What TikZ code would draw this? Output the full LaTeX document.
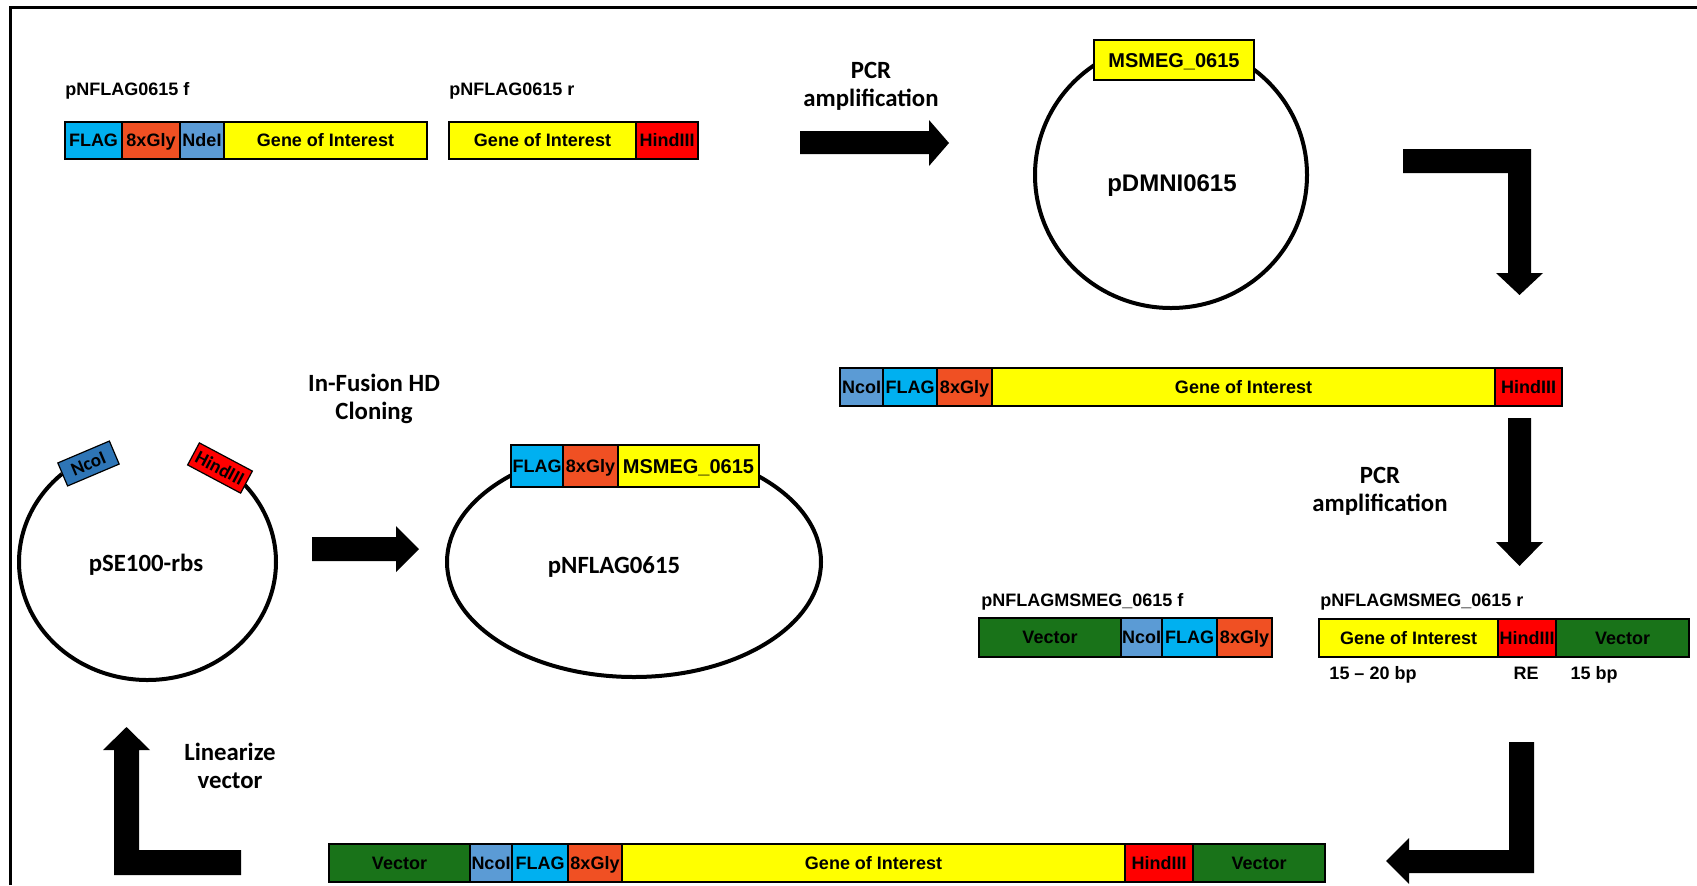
\documentclass[tikz,border=0pt]{standalone}
\usepackage{fontspec}
\newfontfamily\arialf{Liberation Sans}
\newfontfamily\calf{Carlito}

\definecolor{flagc}{RGB}{0,176,240}
\definecolor{glyc}{RGB}{240,80,35}
\definecolor{ndec}{RGB}{91,155,213}
\definecolor{goic}{RGB}{255,255,0}
\definecolor{hindc}{RGB}{255,0,0}
\definecolor{vecc}{RGB}{25,115,25}
\definecolor{ncoc}{RGB}{46,117,182}

\tikzset{
  seg/.style={draw=black, line width=0.8pt},
  barline/.style={draw=black, line width=1.2pt},
  lab/.style={inner sep=0pt, text height=6.4pt, text depth=0pt,
    font=\arialf\bfseries\fontsize{9}{10}\selectfont},
  labbig/.style={inner sep=0pt, text height=7.1pt, text depth=0pt,
    font=\arialf\bfseries\fontsize{10}{11}\selectfont},
  primer/.style={inner sep=0pt, anchor=base west,
    font=\arialf\bfseries\fontsize{9}{10}\selectfont},
  note/.style={inner sep=0pt, anchor=base,
    font=\arialf\bfseries\fontsize{9}{10}\selectfont},
  captext/.style={inner sep=0pt, anchor=base,
    font=\calf\bfseries\fontsize{12.4}{14}\selectfont},
  ring/.style={draw=black, line width=2pt},
  blockarrow/.style={fill=black, draw=none},
  sitebox/.style={draw=black, line width=0.6pt, inner sep=0pt,
    minimum height=12.5pt, font=\calf\bfseries\fontsize{9.5}{10}\selectfont},
}

% one coloured segment of a linear construct
\newcommand\barseg[8]{%
  \draw[seg, fill=#7] (#3,#5) rectangle node[#1] (#2) {#8} (#4,#6);}

\begin{document}
\begin{tikzpicture}[x=0.5pt, y=-0.5pt]
\useasboundingbox (0,0) rectangle (1697,885);
\fill[white] (0,0) rectangle (1697,885);

% frame
\draw[line width=1.5pt] (10,885) -- (10,7.5) -- (1697,7.5);

% ---------- top row: primers ----------
\node[primer] (pf1) at (65,95) {pNFLAG0615 f};
\barseg{lab}{f1flag}{65}{122}{122}{159}{flagc}{FLAG}
\barseg{lab}{f1gly}{122}{180}{122}{159}{glyc}{8xGly}
\barseg{lab}{f1nde}{180}{224}{122}{159}{ndec}{NdeI}
\barseg{lab}{f1goi}{224}{427}{122}{159}{goic}{Gene of Interest}
\draw[barline] (65,122) rectangle (427,159);

\node[primer] (pr1) at (449,95) {pNFLAG0615 r};
\barseg{lab}{r1goi}{449}{636}{122}{159}{goic}{Gene of Interest}
\barseg{lab}{r1hind}{636}{698}{122}{159}{hindc}{HindIII}
\draw[barline] (449,122) rectangle (698,159);

\node[captext] (pcr1a) at (871,78) {PCR};
\node[captext] (pcr1b) at (871,106) {amplification};
\fill[blockarrow] (800,131) -- (929,131) -- (929,120) -- (949,143)
  -- (929,166) -- (929,154) -- (800,154) -- cycle;

% template plasmid
\draw[ring] (1171,175) ellipse [x radius=136, y radius=133];
\barseg{labbig}{tmsmeg}{1094}{1254}{40}{80}{goic}{MSMEG\_0615}
\draw[barline] (1094,40) rectangle (1254,80);
\node[inner sep=0pt, text height=8.6pt, text depth=0pt,
  font=\arialf\bfseries\fontsize{12}{14}\selectfont] (pdmni) at (1172,183) {pDMNI0615};

\fill[blockarrow] (1403,149) -- (1531,149) -- (1531,273) -- (1543,273)
  -- (1519.5,295) -- (1496,273) -- (1508,273) -- (1508,173) -- (1403,173) -- cycle;

% ---------- second row: amplified insert ----------
\barseg{lab}{m1nco}{840}{883}{368}{406}{ndec}{NcoI}
\barseg{lab}{m1flag}{883}{937}{368}{406}{flagc}{FLAG}
\barseg{lab}{m1gly}{937}{992}{368}{406}{glyc}{8xGly}
\barseg{lab}{m1goi}{992}{1495}{368}{406}{goic}{Gene of Interest}
\barseg{lab}{m1hind}{1495}{1562}{368}{406}{hindc}{HindIII}
\draw[barline] (840,368) rectangle (1562,406);

\fill[blockarrow] (1508,418) -- (1531,418) -- (1531,542) -- (1543,542)
  -- (1519.5,566) -- (1496,542) -- (1508,542) -- cycle;
\node[captext] (pcr2a) at (1380,483) {PCR};
\node[captext] (pcr2b) at (1380,511) {amplification};

% ---------- In-Fusion primers ----------
\node[primer] (pf2) at (981,606) {pNFLAGMSMEG\_0615 f};
\barseg{lab}{f2vec}{979}{1121}{618}{657}{vecc}{Vector}
\barseg{lab}{f2nco}{1121}{1162}{618}{657}{ndec}{NcoI}
\barseg{lab}{f2flag}{1162}{1217}{618}{657}{flagc}{FLAG}
\barseg{lab}{f2gly}{1217}{1272}{618}{657}{glyc}{8xGly}
\draw[barline] (979,618) rectangle (1272,657);

\node[primer] (pr2) at (1320,606) {pNFLAGMSMEG\_0615 r};
\barseg{lab}{r2goi}{1319}{1498}{619}{657}{goic}{Gene of Interest}
\barseg{lab}{r2hind}{1498}{1556}{619}{657}{hindc}{HindIII}
\barseg{lab}{r2vec}{1556}{1689}{619}{657}{vecc}{Vector}
\draw[barline] (1319,619) rectangle (1689,657);
\node[note] (bp1) at (1373,679) {15 – 20 bp};
\node[note] (re) at (1526,679) {RE};
\node[note] (bp2) at (1594,679) {15 bp};

% ---------- bottom row: insert with vector overlaps ----------
\fill[blockarrow] (1509,742) -- (1534,742) -- (1534,873) -- (1409,873)
  -- (1409,884) -- (1386,861) -- (1409,838) -- (1409,850) -- (1509,850) -- cycle;

\barseg{lab}{b1vec}{329}{470}{844}{882}{vecc}{Vector}
\barseg{lab}{b1nco}{470}{512}{844}{882}{ndec}{NcoI}
\barseg{lab}{b1flag}{512}{568}{844}{882}{flagc}{FLAG}
\barseg{lab}{b1gly}{568}{622}{844}{882}{glyc}{8xGly}
\barseg{lab}{b1goi}{622}{1125}{844}{882}{goic}{Gene of Interest}
\barseg{lab}{b1hind}{1125}{1193}{844}{882}{hindc}{HindIII}
\barseg{lab}{b1vec2}{1193}{1325}{844}{882}{vecc}{Vector}
\draw[barline] (329,844) rectangle (1325,882);

\fill[blockarrow] (241,875) -- (114,875) -- (114,750) -- (103,750)
  -- (126.5,727) -- (150,750) -- (139,750) -- (139,850) -- (241,850) -- cycle;
\node[captext] (lina) at (230,760) {Linearize};
\node[captext] (linb) at (230,788) {vector};

% ---------- linearised vector ----------
\draw[ring] plot[domain=131.7:400.6, samples=120, smooth]
  ({147.5+128.5*cos(\x)}, {562-118*sin(\x)});
\node[sitebox, fill=ncoc, minimum width=28pt, rotate=23] (sncoi) at (88.5,463.5) {NcoI};
\node[sitebox, fill=hindc, minimum width=30pt, rotate=-28] (shind) at (220,468) {HindIII};
\node[captext] (pse) at (146,571) {pSE100-rbs};

\node[captext] (ifa) at (374,391) {In-Fusion HD};
\node[captext] (ifb) at (374,419) {Cloning};
\fill[blockarrow] (312,537) -- (396,537) -- (396,526) -- (419,549)
  -- (396,572) -- (396,561) -- (312,561) -- cycle;

% ---------- final construct ----------
\draw[ring] (634,562) ellipse [x radius=187, y radius=115];
\barseg{lab}{cflag}{511}{563}{445}{487}{flagc}{FLAG}
\barseg{lab}{cgly}{563}{618}{445}{487}{glyc}{8xGly}
\barseg{labbig}{cmsmeg}{618}{759}{445}{487}{goic}{MSMEG\_0615}
\draw[barline] (511,445) rectangle (759,487);
\node[captext] (pnflag) at (614,573) {pNFLAG0615};

\end{tikzpicture}
\end{document}
